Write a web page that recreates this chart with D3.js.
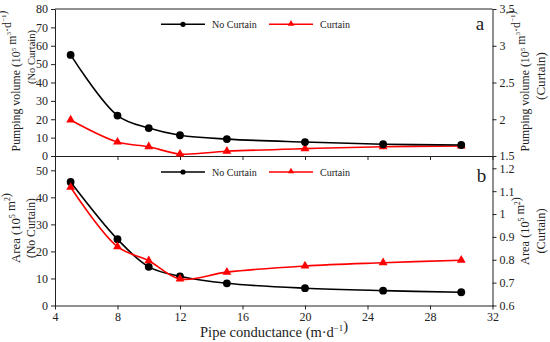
<!DOCTYPE html>
<html>
<head>
<meta charset="utf-8">
<script src="https://cdn.jsdelivr.net/npm/d3@7"></script>
<style>
  body { margin: 0; background: #fff; }
</style>
</head>
<body>
<svg id="chart"></svg>
<script>
// Datos
const conductance = [5, 8, 10, 12, 15, 20, 25, 30];
const pumpNoCurtain = [55, 22, 15.2, 11.3, 9.2, 7.6, 6.4, 6.0];
const pumpCurtain = [1.99, 1.69, 1.626, 1.527, 1.565, 1.60, 1.626, 1.636];
const areaNoCurtain = [45.7, 24.5, 14.3, 10.8, 8.2, 6.4, 5.5, 4.9];
const areaCurtain = [1.117, 0.857, 0.796, 0.716, 0.746, 0.773, 0.787, 0.798];

const xTicks = [4, 8, 12, 16, 20, 24, 28, 32];
const pumpLeftTicks = [0, 10, 20, 30, 40, 50, 60, 70, 80];
const pumpRightTicks = [1.5, 2, 2.5, 3, 3.5];
const areaLeftTicks = [0, 10, 20, 30, 40, 50];
const areaRightTicks = [0.6, 0.7, 0.8, 0.9, 1, 1.1, 1.2];
const seriesNames = ["No Curtain", "Curtain"];

// Configuración
const width = 550;
const height = 342;
const left = 55, right = 492.5;
const topA = 9, bottomA = 156, bottomB = 305.5;
const FONT = '"Liberation Serif"';
const INK = "#222";

const svg = d3.select("#chart")
    .attr("width", width)
    .attr("height", height)
    .style("font-family", FONT);

const x = d3.scaleLinear().domain([4, 32]).range([left, right]);

// Escalas panel a
const yPumpL = d3.scaleLinear().domain([0, 80]).range([bottomA, topA]);
const yPumpR = d3.scaleLinear().domain([1.5, 3.5]).range([bottomA, topA]);
// Escalas panel b
const yAreaL = d3.scaleLinear().domain([0, 50]).range([bottomB, 170.3]);
const yAreaR = d3.scaleLinear().domain([0.6, 1.2]).range([bottomB, 168.3]);

// Ejes
function styleAxis(g) {
    g.attr("font-family", null).attr("font-size", null);
    g.selectAll("path, line").attr("stroke", INK);
    g.selectAll("text")
        .style("font-family", FONT)
        .style("font-size", "12px")
        .attr("fill", INK);
}

svg.append("line")
    .attr("x1", left).attr("x2", right)
    .attr("y1", topA).attr("y2", topA)
    .attr("stroke", INK);

svg.append("g")
    .attr("transform", `translate(${left},0)`)
    .call(d3.axisLeft(yPumpL).tickValues(pumpLeftTicks).tickSize(4).tickSizeOuter(0))
    .call(styleAxis);

svg.append("g")
    .attr("transform", `translate(${right},0)`)
    .call(d3.axisRight(yPumpR).tickValues(pumpRightTicks).tickFormat(d => String(d)).tickSize(4).tickSizeOuter(0))
    .call(styleAxis);

svg.append("g")
    .attr("transform", `translate(0,${bottomA})`)
    .call(d3.axisBottom(x).tickValues(xTicks).tickFormat("").tickSize(4).tickSizeOuter(0))
    .call(styleAxis);

svg.append("g")
    .attr("transform", `translate(${left},0)`)
    .call(d3.axisLeft(yAreaL.copy().domain([0, yAreaL.invert(bottomA)]).range([bottomB, bottomA]))
        .tickValues(areaLeftTicks).tickSize(4).tickSizeOuter(0))
    .call(styleAxis);

svg.append("g")
    .attr("transform", `translate(${right},0)`)
    .call(d3.axisRight(yAreaR.copy().domain([0.6, yAreaR.invert(bottomA)]).range([bottomB, bottomA]))
        .tickValues(areaRightTicks).tickFormat(d => String(d)).tickSize(4).tickSizeOuter(0))
    .call(styleAxis);

svg.append("g")
    .attr("transform", `translate(0,${bottomB})`)
    .call(d3.axisBottom(x).tickValues(xTicks).tickSize(4).tickSizeOuter(0))
    .call(styleAxis);

// Series
const line = d3.line().curve(d3.curveCatmullRom.alpha(0.5));
const tri = d3.symbol().type(d3.symbolTriangle).size(34);

function drawSeries(vals, y, color, marker) {
    const pts = conductance.map((c, i) => [x(c), y(vals[i])]);
    svg.append("path")
        .attr("d", line(pts))
        .attr("fill", "none")
        .attr("stroke", color)
        .attr("stroke-width", 1.6);
    if (marker === "circle") {
        svg.append("g").selectAll("circle")
            .data(pts).enter().append("circle")
            .attr("cx", d => d[0]).attr("cy", d => d[1])
            .attr("r", 3.9).attr("fill", color);
    } else {
        svg.append("g").selectAll("path")
            .data(pts).enter().append("path")
            .attr("d", tri)
            .attr("transform", d => `translate(${d[0]},${d[1]})`)
            .attr("fill", color);
    }
}

drawSeries(pumpCurtain, yPumpR, "#ff0000", "triangle");
drawSeries(pumpNoCurtain, yPumpL, "#000", "circle");
drawSeries(areaNoCurtain, yAreaL, "#000", "circle");
drawSeries(areaCurtain, yAreaR, "#ff0000", "triangle");

// Leyendas
function legend(y) {
    const items = [
        { x0: 161, name: seriesNames[0], color: "#000", marker: "circle" },
        { x0: 269, name: seriesNames[1], color: "#ff0000", marker: "triangle" }
    ];
    items.forEach(it => {
        svg.append("line")
            .attr("x1", it.x0).attr("x2", it.x0 + 44)
            .attr("y1", y).attr("y2", y)
            .attr("stroke", it.color).attr("stroke-width", 1.6);
        if (it.marker === "circle") {
            svg.append("circle").attr("cx", it.x0 + 22).attr("cy", y).attr("r", 2.6).attr("fill", it.color);
        } else {
            svg.append("path").attr("d", d3.symbol().type(d3.symbolTriangle).size(18))
                .attr("transform", `translate(${it.x0 + 22},${y - 0.5})`).attr("fill", it.color);
        }
        svg.append("text")
            .attr("x", it.x0 + 51).attr("y", y + 3.5)
            .style("font-family", FONT)
            .style("font-size", "10px")
            .attr("fill", INK)
            .text(it.name);
    });
}
legend(24.3);
legend(172);

// Etiquetas de panel
svg.append("text").attr("x", 480).attr("y", 30).attr("text-anchor", "middle")
    .style("font-family", FONT).style("font-size", "19px").attr("fill", INK).text("a");
svg.append("text").attr("x", 481.5).attr("y", 181.7).attr("text-anchor", "middle")
    .style("font-family", FONT).style("font-size", "19px").attr("fill", INK).text("b");

// Títulos con superíndices; se ajusta el tamaño a la longitud deseada
function richText(parts, tx, ty, rot, size, targetLen) {
    const t = svg.append("text")
        .attr("transform", `translate(${tx},${ty}) rotate(${rot})`)
        .attr("text-anchor", "middle")
        .attr("fill", INK)
        .style("font-family", FONT);
    function build(s) {
        t.selectAll("tspan").remove();
        t.style("font-size", s + "px");
        parts.forEach(p => {
            if (Array.isArray(p)) {
                t.append("tspan").attr("dy", -s * 0.38).style("font-size", (s * 0.6) + "px").text(p[0]);
                t.append("tspan").attr("dy", s * 0.38).text("");
            } else {
                t.append("tspan").text(p);
            }
        });
    }
    build(size);
    if (targetLen) {
        const len = t.node().getComputedTextLength();
        if (len > 0) build(size * targetLen / len);
    }
    return t;
}

const pumpTitle = ["Pumping volume (10", ["5"], " m", ["3"], "·d", ["−1"], ")"];
const areaTitle = ["Area (10", ["5"], " m", ["2"], ")"];

richText(pumpTitle, 20, 81, -90, 12, 141);
richText(["(No Curtain)"], 35, 57, -90, 12, 54);
richText(areaTitle, 20, 228, -90, 12, 70);
richText(["(No Curtain)"], 35, 228, -90, 12, 60);

richText(pumpTitle, 529, 81, -90, 12, 141);
richText(["(Curtain)"], 545, 76, -90, 12, 48);
richText(areaTitle, 529, 231, -90, 12, 68);
richText(["(Curtain)"], 545, 231, -90, 12, 45);

richText(["Pipe conductance (m·d", ["−1"], ")"], 274, 337, 0, 15, 148);
</script>
</body>
</html>
